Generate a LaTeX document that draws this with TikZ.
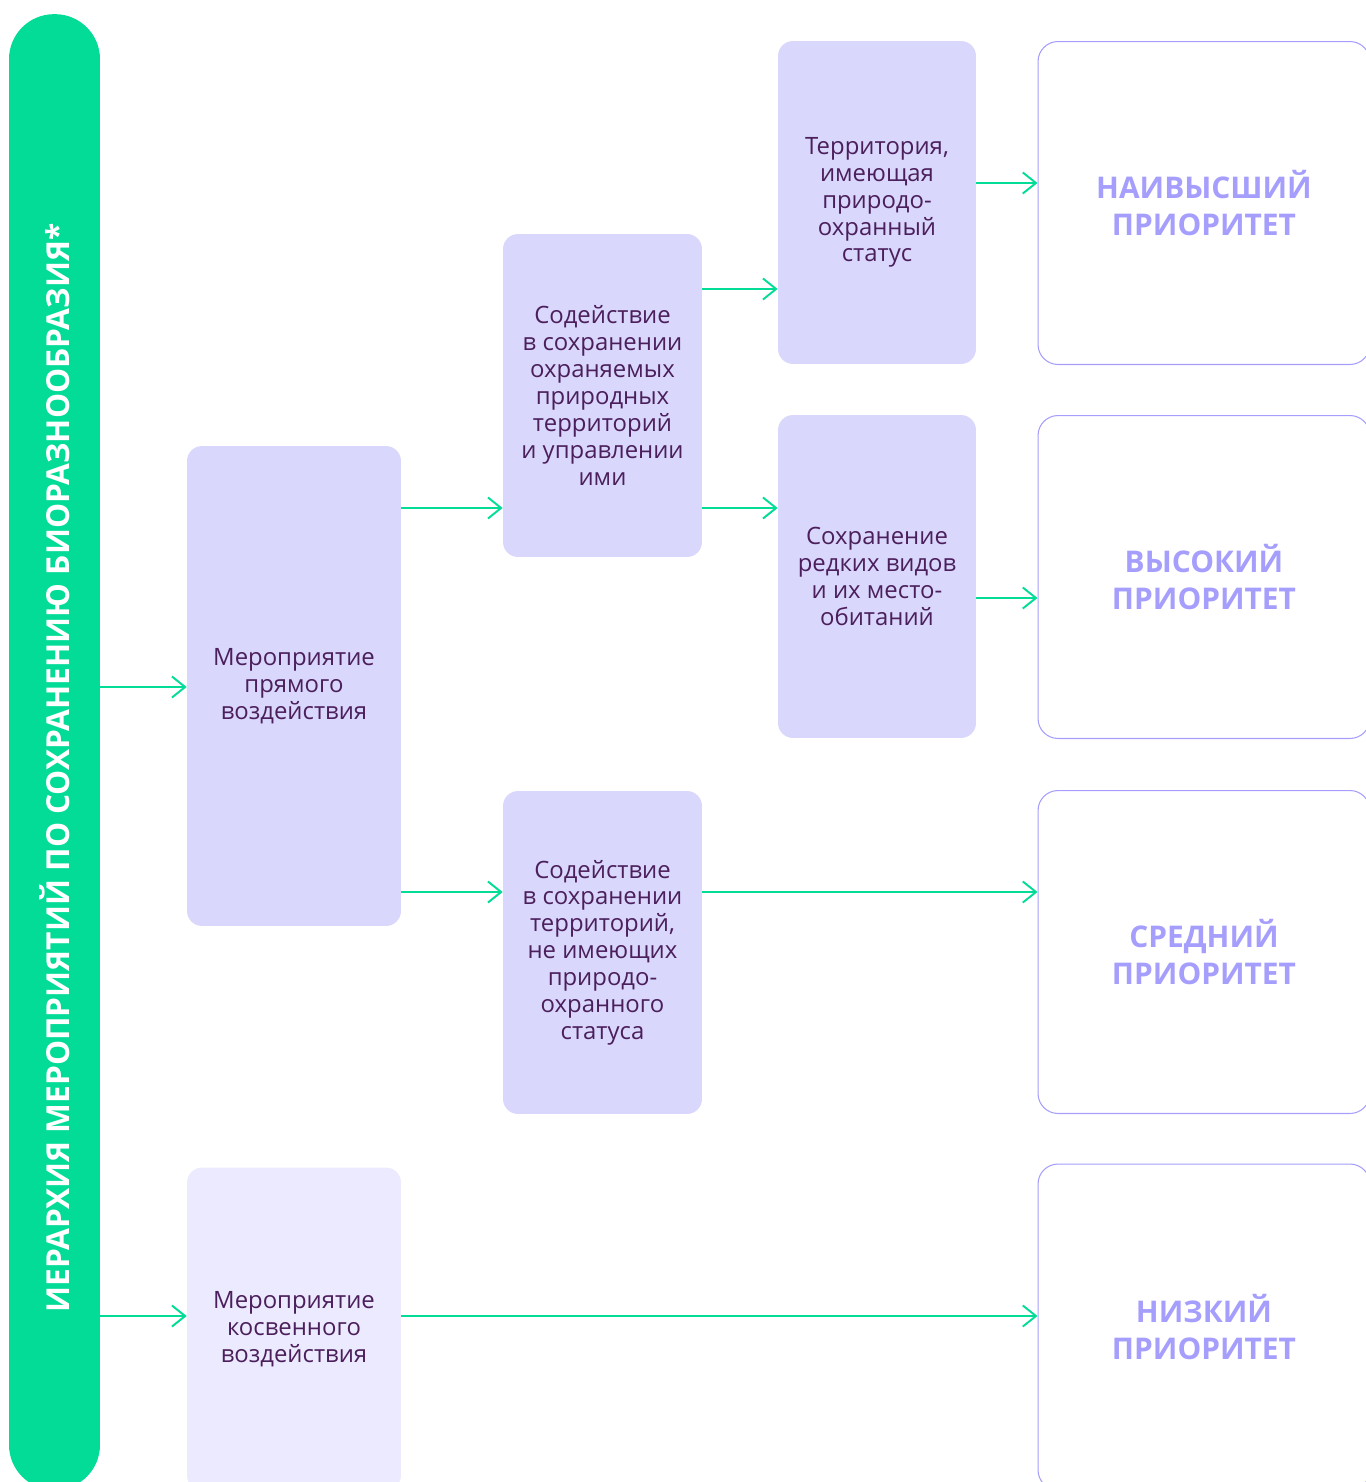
\documentclass[tikz,border=0pt]{standalone}
\usepackage{fontspec}
\setmainfont{Open Sans}
\usetikzlibrary{arrows.meta, positioning}

\definecolor{barGreen}{HTML}{02DC96}
\definecolor{boxLilac}{HTML}{D9D7FC}
\definecolor{boxPale}{HTML}{ECEAFE}
\definecolor{inkPlum}{HTML}{4B1F5C}
\definecolor{prioLilac}{HTML}{A59EFC}

\begin{document}
\begin{tikzpicture}
        [
        x=0.02cm, y=-0.02cm,
        every node/.style={rectangle, align=center, inner sep=0pt},
        measure/.style={fill=boxLilac, rounded corners=0.3cm, text=inkPlum,
            font=\fontsize{13.6}{15.3}\selectfont},
        wide/.style={measure, minimum width=4.28cm},
        narrow/.style={measure, minimum width=3.98cm, minimum height=6.46cm},
        prio/.style={draw=prioLilac, line width=0.6pt, rounded corners=0.4cm,
            minimum width=6.64cm, minimum height=6.46cm, text=prioLilac,
            font=\fontsize{17}{21.2}\selectfont\bfseries},
        arrow/.style={-{Straight Barb[length=7.5pt, width=12pt]}, barGreen, line width=1.1pt}
        ]

        \useasboundingbox (0,0) rectangle (1366,1482);
        \clip (0,0) rectangle (1366,1482);

        % Left bar
        \node (bar) [fill=barGreen, rounded corners=0.9cm, minimum width=1.82cm,
            minimum height=29.52cm] at (54.5,752) {};
        \node (title) [rotate=90, text=white, font=\fontsize{18}{22}\selectfont\bfseries]
            at (55,768) {ИЕРАРХИЯ МЕРОПРИЯТИЙ ПО СОХРАНЕНИЮ БИОРАЗНООБРАЗИЯ*};

        % Measures
        \node (direct) [wide, minimum height=9.6cm] at (294,686)
            {Мероприятие\\прямого\\воздействия};
        \node (indirect) [wide, fill=boxPale, minimum height=6.46cm] at (294,1329)
            {Мероприятие\\косвенного\\воздействия};

        \node (protected) [narrow] at (602.5,395.5)
            {Содействие\\в сохранении\\охраняемых\\природных\\территорий\\и управлении\\ими};
        \node (unprotected) [narrow] at (602.5,952.5)
            {Содействие\\в сохранении\\территорий,\\не имеющих\\природо-\\охранного\\статуса};

        \node (status) [narrow, minimum width=3.96cm] at (877,202.5)
            {Территория,\\имеющая\\природо-\\охранный\\статус};
        \node (species) [narrow, minimum width=3.96cm] at (877,576.5)
            {Сохранение\\редких видов\\и их место-\\обитаний};

        % Priorities
        \node (top) [prio] at (1204,203) {НАИВЫСШИЙ\\ПРИОРИТЕТ};
        \node (high) [prio] at (1204,577) {ВЫСОКИЙ\\ПРИОРИТЕТ};
        \node (mid) [prio] at (1204,952) {СРЕДНИЙ\\ПРИОРИТЕТ};
        \node (low) [prio, minimum height=6.52cm] at (1204,1327) {НИЗКИЙ\\ПРИОРИТЕТ};

        % Arrow levels
        \coordinate (lvTop) at (0,183);
        \coordinate (lvStatus) at (0,289);
        \coordinate (lvProt) at (0,508);
        \coordinate (lvHigh) at (0,598);
        \coordinate (lvDirect) at (0,687);
        \coordinate (lvMid) at (0,892);
        \coordinate (lvLow) at (0,1316);

        % Edges
        \draw [arrow] (bar.east |- lvDirect) -- (direct.west |- lvDirect);
        \draw [arrow] (bar.east |- lvLow) -- (indirect.west |- lvLow);

        \draw [arrow] (direct.east |- lvProt) -- (protected.west |- lvProt);
        \draw [arrow] (direct.east |- lvMid) -- (unprotected.west |- lvMid);

        \draw [arrow] (protected.east |- lvStatus) -- (status.west |- lvStatus);
        \draw [arrow] (protected.east |- lvProt) -- (species.west |- lvProt);

        \draw [arrow] (status.east |- lvTop) -- (top.west |- lvTop);
        \draw [arrow] (species.east |- lvHigh) -- (high.west |- lvHigh);
        \draw [arrow] (unprotected.east |- lvMid) -- (mid.west |- lvMid);
        \draw [arrow] (indirect.east |- lvLow) -- (low.west |- lvLow);

    \end{tikzpicture}
\end{document}
